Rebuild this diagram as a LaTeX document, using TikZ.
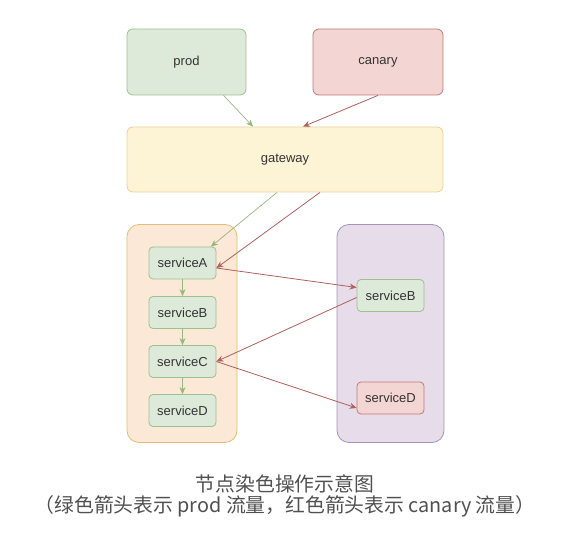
\documentclass[tikz,border=0pt]{standalone}
\usepackage{fontspec}
\setmainfont{Liberation Sans}
\newfontfamily\cjk{Noto Sans CJK SC}
\usetikzlibrary{positioning}
\usetikzlibrary{arrows.meta}
\definecolor{prodfill}{HTML}{DDEAD9}
\definecolor{prodline}{HTML}{9DC08F}
\definecolor{canfill}{HTML}{F3D5D3}
\definecolor{canline}{HTML}{C07A76}
\definecolor{gwfill}{HTML}{FDF4D6}
\definecolor{gwline}{HTML}{E6D393}
\definecolor{lanefill}{HTML}{FBE8D6}
\definecolor{laneline}{HTML}{E3BE72}
\definecolor{grayfill}{HTML}{E6DCEA}
\definecolor{grayline}{HTML}{A693B7}
\definecolor{greenarrow}{HTML}{98B67F}
\definecolor{redarrow}{HTML}{B0605D}
\definecolor{labeltext}{HTML}{333333}
\definecolor{captext}{HTML}{505050}
\tikzset{
    boxg/.style = {rectangle, rounded corners=6pt, draw=prodline, fill=prodfill, line width=0.8pt, inner sep=0, font=\fontsize{13}{15}\selectfont, text=labeltext},
    boxr/.style = {boxg, draw=canline, fill=canfill},
    boxy/.style = {boxg, draw=gwline, fill=gwfill},
    svcg/.style = {boxg, rounded corners=4pt, minimum width=67pt, minimum height=32pt},
    svcr/.style = {svcg, draw=canline, fill=canfill},
    lanel/.style = {rectangle, rounded corners=12pt, draw=laneline, fill=lanefill, line width=0.8pt},
    laner/.style = {lanel, draw=grayline, fill=grayfill},
    edgeg/.style = {-{Stealth[length=7pt,width=6pt]}, line width=0.7pt, greenarrow},
    edger/.style = {-{Stealth[length=7pt,width=6pt]}, line width=0.8pt, redarrow},
    caption/.style = {font=\cjk\fontsize{19.8}{21}\selectfont, text=captext, align=center}
}
\begin{document}
\begin{tikzpicture}[x=1pt,y=-1pt]
\useasboundingbox (0,0) rectangle (567,534);

% lanes
\node[lanel, minimum width=110pt, minimum height=218pt] at (182, 333.5) (prodlane) {};
\node[laner, minimum width=107pt, minimum height=218pt] at (390.5, 333.5) (canlane) {};

% entry and gateway
\node[boxg, minimum width=119pt, minimum height=66pt] at (186.5, 62) (prod) {prod};
\node[boxr, minimum width=130pt, minimum height=66pt] at (378, 62) (canary) {canary};
\node[boxy, minimum width=316pt, minimum height=65pt] at (285, 159.5) (gw) {gateway};

% services
\node[svcg] at (182.5, 263) (sA) {serviceA};
\node[svcg] at (182.5, 312.5) (sB) {serviceB};
\node[svcg] at (182.5, 361.5) (sC) {serviceC};
\node[svcg] at (182.5, 410.5) (sD) {serviceD};
\node[svcg] at (390.5, 295.5) (cB) {serviceB};
\node[svcr] at (390.5, 398) (cD) {serviceD};

% prod traffic
\draw[edgeg] ([xshift=37pt]prod.south) -- ([xshift=-32pt]gw.north);
\draw[edgeg] ([xshift=-8pt]gw.south) -- (sA.30);
\draw[edgeg] (sA) -- (sB);
\draw[edgeg] (sB) -- (sC);
\draw[edgeg] (sC) -- (sD);

% canary traffic
\draw[edger] (canary.south) -- ([xshift=18pt]gw.north);
\draw[edger] ([xshift=35pt]gw.south) -- ([yshift=-5pt]sA.east);
\draw[edger] ([yshift=-5pt]sA.east) -- ([yshift=8pt]cB.west);
\draw[edger] ([yshift=-2pt]cB.west) -- (sC.east);
\draw[edger] (sC.east) -- ([yshift=-10pt]cD.west);

\node[caption] at (285, 496) (cap) {节点染色操作示意图\\（绿色箭头表示 prod 流量，红色箭头表示 canary 流量）};

\end{tikzpicture}
\end{document}
